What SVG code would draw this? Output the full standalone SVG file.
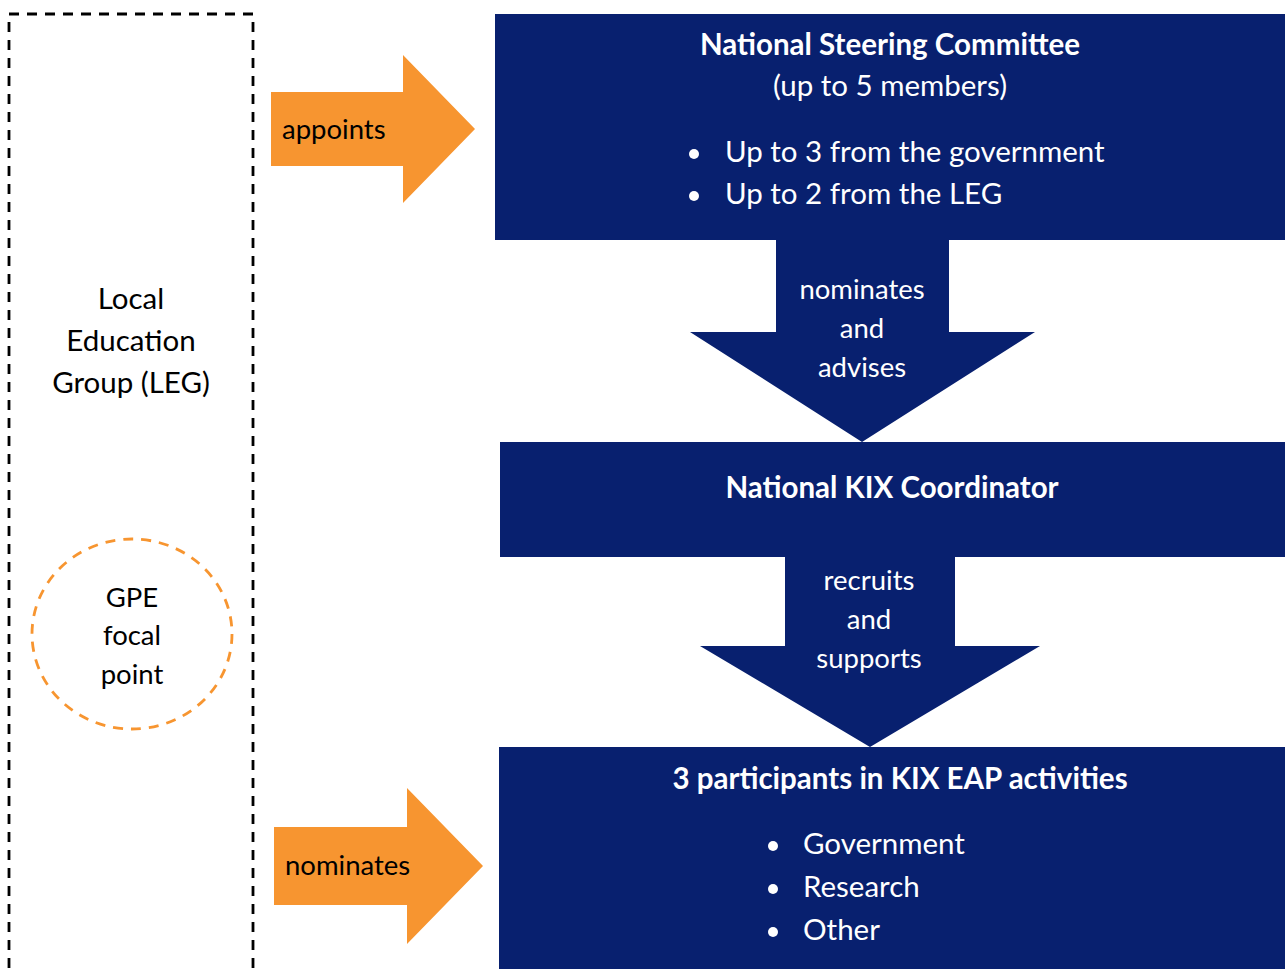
<svg xmlns="http://www.w3.org/2000/svg" width="1285" height="969" viewBox="0 0 1285 969">
<style>
.t{font-family:Lato,"Open Sans","Liberation Sans",sans-serif;font-size:29.5px}
.s{font-size:27.5px}
.w{fill:#ffffff}
.k{fill:#000000}
.b{font-weight:bold}
.m{text-anchor:middle}
.blue{fill:#08206F}
.orange{fill:#F79530}
</style>
<rect width="1285" height="969" fill="#ffffff"/>
<g id="leg">
<rect x="9" y="14" width="244" height="980" fill="none" stroke="#000" stroke-width="2.8" stroke-dasharray="10,8"/>
<text class="t k m" x="131" y="309">Local</text>
<text class="t k m" x="131" y="351">Education</text>
<text class="t k m" x="131" y="393">Group (LEG)</text>
</g>
<g id="gpe">
<ellipse cx="132" cy="634" rx="100" ry="95" fill="none" stroke="#F79530" stroke-width="2.8" stroke-dasharray="10,8"/>
<text class="t s k m" x="132" y="607">GPE</text>
<text class="t s k m" x="132" y="645">focal</text>
<text class="t s k m" x="132" y="684">point</text>
</g>
<g id="nsc">
<rect class="blue" x="495" y="14" width="790" height="226"/>
<text class="t w m b" x="890" y="55">National Steering Committee</text>
<text class="t w m" x="890" y="96">(up to 5 members)</text>
<circle class="w" cx="694" cy="154" r="5"/>
<text class="t w" x="725" y="162">Up to 3 from the government</text>
<circle class="w" cx="694" cy="196" r="5"/>
<text class="t w" x="725" y="204">Up to 2 from the LEG</text>
</g>
<g id="coord">
<rect class="blue" x="500" y="442" width="785" height="115"/>
<text class="t w m b" x="892" y="498">National KIX Coordinator</text>
</g>
<g id="participants">
<rect class="blue" x="499" y="747" width="786" height="222"/>
<text class="t w m b" x="900" y="789">3 participants in KIX EAP activities</text>
<circle class="w" cx="773" cy="846" r="5"/>
<text class="t w" x="803" y="854">Government</text>
<circle class="w" cx="773" cy="889" r="5"/>
<text class="t w" x="803" y="897">Research</text>
<circle class="w" cx="773" cy="932" r="5"/>
<text class="t w" x="803" y="940">Other</text>
</g>
<g id="connectors">
<g id="arrow-appoints">
<polygon class="orange" points="271,92 403,92 403,55 475,129 403,203 403,166 271,166"/>
<text class="t s k" x="282" y="139">appoints</text>
</g>
<g id="arrow-nominates">
<polygon class="orange" points="274,827 407,827 407,788 483,866 407,944 407,905 274,905"/>
<text class="t s k" x="285" y="875">nominates</text>
</g>
<g id="arrow-nominates-advises">
<polygon class="blue" points="776,239 949,239 949,332 1035,332 862,442 690,332 776,332"/>
<text class="t s w m" x="862" y="299">nominates</text>
<text class="t s w m" x="862" y="338">and</text>
<text class="t s w m" x="862" y="377">advises</text>
</g>
<g id="arrow-recruits-supports">
<polygon class="blue" points="785,556 955,556 955,646 1040,646 870,747 700,646 785,646"/>
<text class="t s w m" x="869" y="590">recruits</text>
<text class="t s w m" x="869" y="629">and</text>
<text class="t s w m" x="869" y="668">supports</text>
</g>
</g>
</svg>
